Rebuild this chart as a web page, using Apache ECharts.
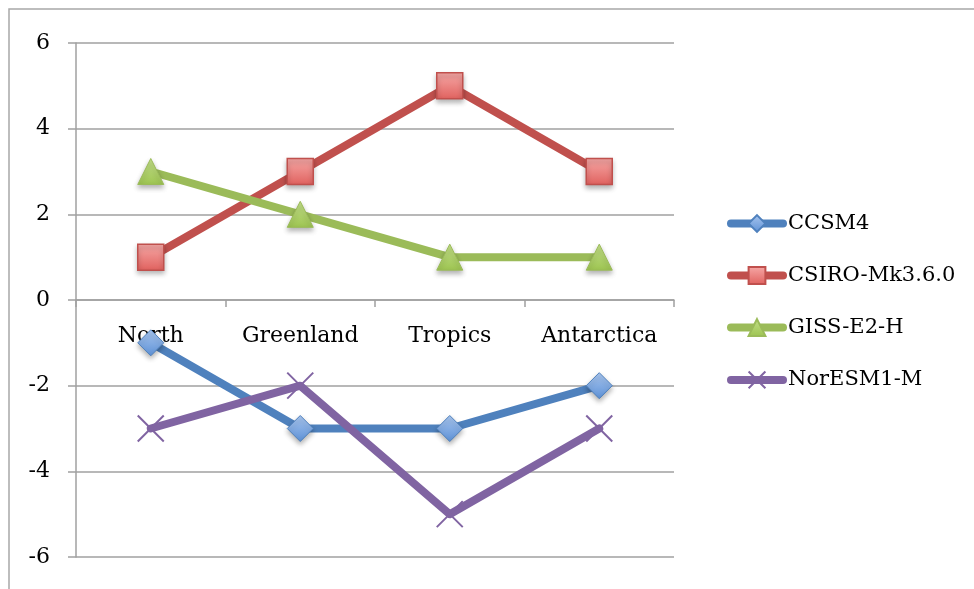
<!DOCTYPE html>
<html><head><meta charset="utf-8">
<script src="https://cdn.jsdelivr.net/npm/echarts@6/dist/echarts.min.js"></script>
<style>html,body{margin:0;padding:0;background:#fff}#c{width:974px;height:589px}</style>
</head><body><div id="c"></div>
<script>
const categories = ['North', 'Greenland', 'Tropics', 'Antarctica'];
const seriesNames = ['CCSM4', 'CSIRO-Mk3.6.0', 'GISS-E2-H', 'NorESM1-M'];
const ccsm4 = [-1, -3, -3, -2];
const csiro = [1, 3, 5, 3];
const giss = [3, 2, 1, 1];
const noresm = [-3, -2, -5, -3];
const yTicks = [-6, -4, -2, 0, 2, 4, 6];

const FONT = 'DejaVu Serif';
const grey = '#a0a0a0';
function grad(a, b) {
  return new echarts.graphic.LinearGradient(0, 0, 0, 1, [{offset: 0, color: a}, {offset: 1, color: b}]);
}
function mk(name, data, color, symbol, size, fill, border, bw, shadow) {
  return {
    name: name, type: 'line', data: data,
    symbol: symbol, symbolSize: size,
    lineStyle: {color: color, width: 8, cap: 'round', join: 'round'},
    itemStyle: {color: fill, borderColor: border, borderWidth: bw,
      shadowBlur: shadow ? 5 : 0, shadowOffsetY: shadow ? 3 : 0, shadowColor: 'rgba(0,0,0,0.3)'},
    emphasis: {disabled: true}, z: 3
  };
}
const chart = echarts.init(document.getElementById('c'));
const gridBottom = 32;
const option = {
  animation: false,
  backgroundColor: '#fff',
  textStyle: {fontFamily: FONT},
  graphic: [{type: 'rect', shape: {x: 9, y: 9, width: 1200, height: 1200}, style: {fill: 'none', stroke: '#a8a8a8', lineWidth: 1.5}, z: -1}],
  grid: {left: 76, right: 300, top: 43, bottom: gridBottom, outerBoundsMode: 'none'},
  legend: {
    orient: 'vertical', left: 722, top: 208,
    itemWidth: 52, itemHeight: 21, itemGap: 31,
    lineStyle: {width: 8, cap: 'round'},
    textStyle: {fontFamily: FONT, fontSize: 21, color: '#000', padding: [0, 0, 0, 0]},
    data: seriesNames
  },
  xAxis: {
    type: 'category', data: categories, boundaryGap: true,
    axisLine: {onZero: false, lineStyle: {color: grey, width: 1.5}},
    axisTick: {show: true, length: 7, interval: 0, lineStyle: {color: grey, width: 1.5}},
    axisLabel: {fontFamily: FONT, fontSize: 22, color: '#000', margin: 25, interval: 0},
    splitLine: {show: false},
    offset: 0
  },
  yAxis: {
    type: 'value', min: -6, max: 6, interval: 2,
    axisLine: {show: true, lineStyle: {color: grey, width: 1.5}},
    axisTick: {show: true, length: 8, lineStyle: {color: grey, width: 1.5}},
    axisLabel: {fontFamily: FONT, fontSize: 22, color: '#000', margin: 26,
      formatter: v => yTicks.includes(v) ? String(v) : ''},
    splitLine: {show: true, lineStyle: {color: grey, width: 1.5}}
  },
  series: [
    mk(seriesNames[0], ccsm4, '#4f81bd', 'diamond', 26, grad('#a9c6ef', '#5d91d6'), '#4f81bd', 1, true),
    mk(seriesNames[1], csiro, '#c0504d', 'rect', 26, grad('#f6a9a7', '#e0615e'), '#c0504d', 1.5, true),
    mk(seriesNames[2], giss, '#9bbb59', 'triangle', 26, grad('#c4e08a', '#9dc451'), '#9bbb59', 1, true),
    mk(seriesNames[3], noresm, '#8064a2', 'path://M0,0L10,10M10,0L0,10', 26, 'none', '#8064a2', 2, false)
  ]
};
chart.setOption(option);
// place the category axis on the zero line (labels follow it); iterate so layout settles
for (let i = 0; i < 3; i++) {
  const zeroY = chart.convertToPixel({yAxisIndex: 0}, 0);
  const bottomY = chart.convertToPixel({yAxisIndex: 0}, -6);
  chart.setOption({xAxis: {offset: -(bottomY - zeroY)}});
}
</script></body></html>
